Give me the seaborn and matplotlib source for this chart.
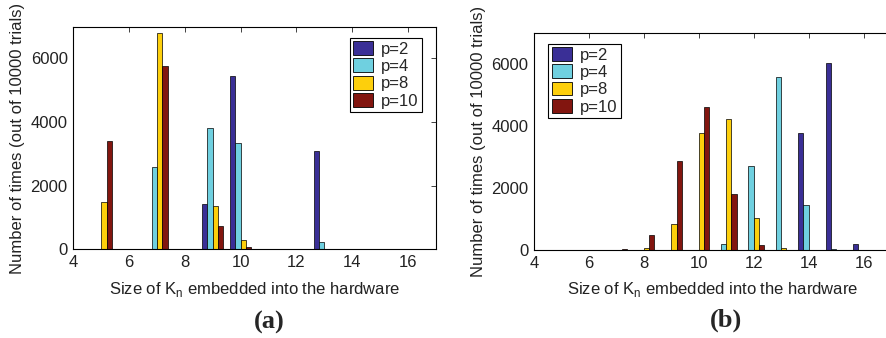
import numpy as np
import pandas as pd
import seaborn as sns
import matplotlib
matplotlib.use("Agg")
import matplotlib.pyplot as plt
from matplotlib.patches import Patch

# ---------------- data ----------------
series_labels = ["p=2", "p=4", "p=8", "p=10"]
colors = ["#3a2f96", "#6fd0e0", "#fdcf0c", "#82150f"]

sizes_a = [5, 6, 7, 8, 9, 10, 11, 12, 13]
a_p2 = [0, 0, 0, 0, 1427, 5465, 0, 0, 3094]
a_p4 = [0, 0, 2600, 0, 3829, 3346, 0, 0, 220]
a_p8 = [1500, 0, 6808, 0, 1374, 304, 0, 0, 0]
a_p10 = [3420, 0, 5759, 0, 734, 84, 0, 0, 0]

sizes_b = [7, 8, 9, 10, 11, 12, 13, 14, 15, 16]
b_p2 = [0, 0, 0, 0, 0, 0, 0, 3782, 6011, 182]
b_p4 = [0, 0, 0, 0, 204, 2711, 5582, 1446, 20, 0]
b_p8 = [0, 75, 836, 3761, 4232, 1018, 54, 0, 0, 0]
b_p10 = [20, 482, 2882, 4596, 1800, 161, 0, 0, 0, 0]

x_ticks = [4, 6, 8, 10, 12, 14, 16]
y_ticks = [0, 2000, 4000, 6000]


def make_df(sizes, series):
    rows = []
    for lab, vals in zip(series_labels, series):
        for n, v in zip(sizes, vals):
            if v > 0:
                rows.append({"n": n, "count": v, "p": lab})
    return pd.DataFrame(rows)


df_a = make_df(sizes_a, [a_p2, a_p4, a_p8, a_p10])
df_b = make_df(sizes_b, [b_p2, b_p4, b_p8, b_p10])

sns.set_style("white")
plt.rcParams["font.family"] = ["Liberation Sans", "DejaVu Sans"]
plt.rcParams["mathtext.fontset"] = "custom"
plt.rcParams["mathtext.rm"] = "Liberation Sans"

FS = 12
fig = plt.figure(figsize=(8.87, 3.38), dpi=100)
ax_a = fig.add_axes([73.3 / 887, (338 - 249.3) / 338, 362.7 / 887, 222.6 / 338])
ax_b = fig.add_axes([534 / 887, (338 - 250) / 338, 357 / 887, 217.3 / 338])

palette = dict(zip(series_labels, colors))

for ax, df, loc, anchor in [
    (ax_a, df_a, "upper right", (0.962, 0.95)),
    (ax_b, df_b, "upper left", (0.04, 0.95)),
]:
    sns.barplot(data=df, x="n", y="count", hue="p", hue_order=series_labels,
                palette=palette, native_scale=True, width=0.76, saturation=1,
                edgecolor="black", linewidth=0.5, errorbar=None, ax=ax,
                legend=False)
    ax.set_xlim(4, 17)
    ax.set_ylim(0, 7000)
    ax.set_xticks(x_ticks)
    ax.set_xticklabels([str(t) for t in x_ticks])
    ax.set_yticks(y_ticks)
    ax.set_yticklabels([str(t) for t in y_ticks])
    ax.tick_params(direction="in", length=3.5, width=0.6, top=True, right=True,
                   labelsize=FS, pad=4, colors="#222222")
    for sp in ax.spines.values():
        sp.set_visible(True)
        sp.set_color("black")
        sp.set_linewidth(0.8)
    ax.set_xlabel(r"Size of K$_\mathrm{n}$ embedded into the hardware",
                  fontsize=FS, labelpad=7, color="#222222")
    ax.set_ylabel("Number of times (out of 10000 trials)", fontsize=FS,
                  labelpad=4, color="#222222")
    handles = [Patch(facecolor=c, edgecolor="black", linewidth=0.6) for c in colors]
    leg = ax.legend(handles, series_labels, loc=loc, bbox_to_anchor=anchor,
                    fontsize=FS, frameon=True, fancybox=False, framealpha=1,
                    edgecolor="black", handlelength=1.2, handleheight=0.9,
                    handletextpad=0.5, borderpad=0.2, labelspacing=0.1,
                    borderaxespad=0)
    leg.get_frame().set_linewidth(0.8)
    ax.set_facecolor("white")

fig.text(269 / 887, 1 - 322 / 338, "(a)", ha="center", va="center",
         fontsize=19, fontweight="bold", family=["Liberation Serif", "DejaVu Serif"])
fig.text(726 / 887, 1 - 320 / 338, "(b)", ha="center", va="center",
         fontsize=19, fontweight="bold", family=["Liberation Serif", "DejaVu Serif"])

fig.savefig("out.png", dpi=100, facecolor="white")
